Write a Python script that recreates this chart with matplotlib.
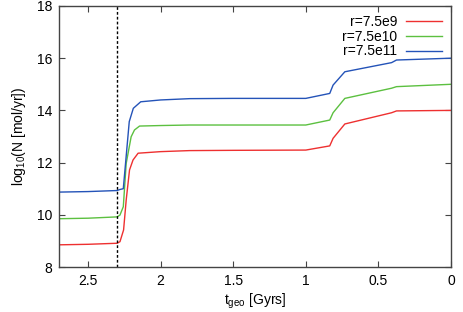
import matplotlib
matplotlib.use("Agg")
import matplotlib.pyplot as plt

plt.rcParams['font.family'] = ['Liberation Sans', 'DejaVu Sans']
plt.rcParams['mathtext.fontset'] = 'custom'
plt.rcParams['mathtext.rm'] = 'Liberation Sans'
plt.rcParams['mathtext.it'] = 'Liberation Sans'

# czas geologiczny [Gyr] dla kazdej krzywej
t_red = [2.7, 2.5, 2.30, 2.28, 2.255, 2.237, 2.214, 2.19, 2.155, 2.0, 1.8, 1.5, 1.0,
         0.835, 0.812, 0.731, 0.409, 0.375, 0.0]
n_red = [8.85, 8.87, 8.91, 8.97, 9.42, 10.57, 11.72, 12.1, 12.36, 12.42, 12.46, 12.47, 12.48,
         12.64, 12.93, 13.48, 13.91, 13.98, 14.0]

t_green = [2.7, 2.5, 2.30, 2.28, 2.257, 2.237, 2.203, 2.18, 2.145, 2.0, 1.8, 1.5, 1.0,
           0.835, 0.812, 0.731, 0.409, 0.375, 0.0]
n_green = [9.85, 9.87, 9.92, 9.99, 10.31, 11.97, 12.99, 13.25, 13.40, 13.42, 13.44, 13.44, 13.44,
           13.63, 13.91, 14.46, 14.85, 14.91, 15.0]

t_blue = [2.7, 2.5, 2.30, 2.28, 2.257, 2.216, 2.188, 2.137, 2.0, 1.8, 1.5, 1.0,
          0.835, 0.812, 0.731, 0.409, 0.375, 0.0]
n_blue = [10.87, 10.89, 10.93, 10.97, 11.0, 13.57, 14.08, 14.33, 14.40, 14.45, 14.46, 14.46,
          14.65, 14.97, 15.48, 15.83, 15.93, 16.0]

t_cut = 2.30

fig = plt.figure(figsize=(4.63, 3.12), dpi=100)
ax = fig.add_axes([0.1274, 0.1442, 0.8466, 0.8366])

ax.plot(t_red, n_red, color='#ee3030', lw=1.0, label='r=7.5e9')
ax.plot(t_green, n_green, color='#5cc040', lw=1.0, label='r=7.5e10')
ax.plot(t_blue, n_blue, color='#2453b8', lw=1.0, label='r=7.5e11')
ax.axvline(t_cut, color='black', lw=1.0, ls=(0, (2, 1.5)))

ax.set_xlim(2.7, 0)
ax.set_ylim(8, 18)
ax.set_xticks([2.5, 2, 1.5, 1, 0.5, 0])
ax.set_xticklabels(['2.5', '2', '1.5', '1', '0.5', '0'])
ax.set_yticks([8, 10, 12, 14, 16, 18])
ax.tick_params(direction='in', top=True, right=True, length=4, width=0.8,
               labelsize=10, color='#444444', pad=5)
for s in ax.spines.values():
    s.set_color('#444444')
    s.set_linewidth(1.0)

ax.set_xlabel(r't$_{\mathregular{geo}}$ [Gyrs]', fontsize=10, labelpad=3)
ax.set_ylabel(r'log$_{\mathregular{10}}$(N [mol/yr])', fontsize=10, labelpad=6)

ax.legend(loc='upper right', frameon=False, markerfirst=False, fontsize=10,
          handlelength=2.6, labelspacing=0.05, borderaxespad=0.25, handletextpad=0.6)

fig.savefig('out.png', dpi=100)
